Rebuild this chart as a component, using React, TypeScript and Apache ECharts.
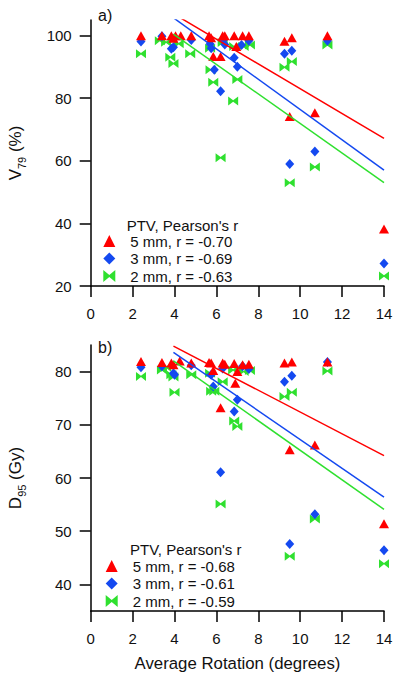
import React, { useEffect, useRef } from "react";
import * as echarts from "echarts";

const xTicks = [0, 2, 4, 6, 8, 10, 12, 14];
const v79Ticks = [20, 40, 60, 80, 100];
const d95Ticks = [40, 50, 60, 70, 80];

const namesA = ["5 mm, r = -0.70", "3 mm, r = -0.69", "2 mm, r = -0.63"];
const namesB = ["5 mm, r = -0.68", "3 mm, r = -0.61", "2 mm, r = -0.59"];

const v79_5mm = [
  [2.4, 100], [3.4, 100], [3.85, 100], [3.95, 99.2], [4.05, 100], [4.3, 100], [4.8, 100],
  [5.65, 100], [5.75, 99.3], [5.85, 93.3], [6.2, 93.3], [6.3, 100], [6.4, 100], [6.85, 100],
  [6.95, 96.5], [7.25, 100], [7.55, 100], [9.25, 98.2], [9.5, 74.2], [9.6, 99.3], [10.7, 75.4],
  [11.3, 100], [14, 38.2],
];
const v79_3mm = [
  [2.4, 98.1], [3.4, 99.8], [3.85, 95.8], [3.95, 96.3], [4.8, 98.6], [5.7, 97.3], [5.75, 96],
  [5.9, 89.1], [6.2, 82.2], [6.35, 98.8], [6.4, 97.2], [6.85, 92.9], [7.0, 90.1], [7.2, 97],
  [7.55, 98.4], [9.25, 94.2], [9.5, 59], [9.6, 95.2], [10.7, 63], [11.3, 98.4], [14, 27.2],
];
const v79_2mm = [
  [2.4, 94.2], [3.3, 98.4], [3.6, 97.9], [3.8, 93.1], [3.95, 91.1], [4.2, 97.4], [4.75, 94.2],
  [5.7, 96], [5.72, 89.1], [5.85, 85.1], [6.2, 61], [6.3, 97.8], [6.8, 79.1], [6.85, 96.5],
  [7.0, 86], [7.3, 96.5], [7.6, 97], [9.25, 89.9], [9.5, 53], [9.6, 91.7], [10.7, 58],
  [11.3, 97], [14, 23.2],
];
const d95_5mm = [
  [2.4, 81.9], [3.4, 81.7], [3.85, 81.6], [3.95, 81.3], [4.25, 82], [4.8, 81.6], [5.65, 81.7],
  [5.75, 81.6], [5.85, 80.2], [6.2, 73.2], [6.3, 81.6], [6.4, 81.4], [6.85, 81.5], [6.9, 77.8],
  [7.0, 80], [7.25, 81.3], [7.55, 81.4], [9.25, 81.6], [9.5, 65.3], [9.6, 81.8], [10.7, 66.2],
  [11.3, 81.8], [14, 51.4],
];
const d95_3mm = [
  [2.4, 80.8], [3.4, 81], [3.95, 79.7], [4.0, 79.4], [4.8, 81.2], [5.75, 79.4], [5.85, 77.2],
  [6.2, 61.1], [6.3, 80.6], [6.85, 72.5], [7.0, 74.7], [7.25, 81], [7.55, 80.5], [9.25, 78.1],
  [9.5, 47.6], [9.6, 79.2], [10.7, 53.2], [11.3, 81.8], [14, 46.4],
];
const d95_2mm = [
  [2.4, 79.1], [3.4, 80.3], [3.6, 80.8], [3.85, 79.4], [3.95, 79], [4.0, 76.1], [4.8, 79.4],
  [5.7, 79.7], [5.75, 76.3], [5.9, 76.3], [6.2, 55.1], [6.3, 78.1], [6.8, 80.3], [6.85, 70.7],
  [7.0, 69.7], [7.3, 80], [7.6, 80.2], [9.25, 75.3], [9.5, 45.3], [9.6, 76.1], [10.7, 52.3],
  [11.3, 80.1], [14, 43.9],
];

// fit lines (endpoints in data units)
const fitV79_5 = [[3.95, 107.0], [14, 67.2]];
const fitV79_3 = [[3.95, 105.7], [14, 57.0]];
const fitV79_2 = [[3.95, 100.5], [14, 53.0]];
const fitD95_5 = [[3.95, 84.8], [14, 64.2]];
const fitD95_3 = [[3.95, 83.6], [14, 56.4]];
const fitD95_2 = [[3.95, 82.0], [14, 54.1]];

const RED = "#ff0000";
const BLUE = "#1449f0";
const GREEN = "#2fe02f";
const FONT = "Liberation Sans, Arial, Helvetica, sans-serif";
const BOWTIE = "path://M0,0L5,4.2L10,0L10,10L5,5.8L0,10Z";

export default function App() {
  const ref = useRef<HTMLDivElement>(null);
  useEffect(() => {
    if (!ref.current) return;
    const chart = echarts.init(ref.current, undefined, { renderer: "svg" });

    const axisLine = { show: true, onZero: false, lineStyle: { color: "#000", width: 1.5 } };
    const axisTick = { show: true, inside: false, length: 11, lineStyle: { color: "#000", width: 1.5 } };
    const lbl = { fontSize: 15, color: "#111", fontFamily: FONT };

    const mkX = (gridIndex: number) => ({
      type: "value",
      gridIndex,
      min: 0,
      max: 14,
      interval: 2,
      axisLine,
      axisTick: { ...axisTick, customValues: xTicks },
      splitLine: { show: false },
      axisLabel: { ...lbl, margin: 20, customValues: xTicks },
    });
    const mkY = (gridIndex: number, min: number, max: number, ticks: number[]) => ({
      type: "value",
      gridIndex,
      min,
      max,
      axisLine,
      axisTick: { ...axisTick, customValues: ticks },
      splitLine: { show: false },
      axisLabel: { ...lbl, margin: 19, customValues: ticks },
    });

    const scat = (name: string, data: number[][], xi: number, symbol: string, size: number[], color: string, z: number) => ({
      type: "scatter",
      name,
      data,
      xAxisIndex: xi,
      yAxisIndex: xi,
      symbol,
      symbolSize: size,
      itemStyle: { color, opacity: 1 },
      z,
      silent: true,
    });
    const fit = (name: string, data: number[][], xi: number, color: string) => ({
      type: "line",
      name,
      data,
      xAxisIndex: xi,
      yAxisIndex: xi,
      symbol: "none",
      showSymbol: false,
      clip: true,
      lineStyle: { color, width: 1.5 },
      z: 5,
      silent: true,
    });

    const legend = (data: string[], left: number, top: number) => ({
      data,
      orient: "vertical",
      left,
      top,
      padding: 0,
      itemGap: 2.5,
      itemWidth: 12,
      itemHeight: 12,
      selectedMode: false,
      textStyle: { fontSize: 15, color: "#111", fontFamily: FONT, padding: [0, 0, 0, 10] },
    });

    const sub = {
      n: { fontSize: 17, fontFamily: FONT, fill: "#111", color: "#111", lineHeight: 24, verticalAlign: "middle" },
      s: { fontSize: 11, fontFamily: FONT, fill: "#111", color: "#111", lineHeight: 24, verticalAlign: "bottom" },
    };
    const txt = (text: string, x: number, y: number, align = "left", size = 15) => ({
      type: "text",
      x,
      y,
      silent: true,
      style: { text, fill: "#111", fontSize: size, fontFamily: FONT, align, verticalAlign: "middle" },
    });

    chart.setOption({
      animation: false,
      backgroundColor: "#fff",
      grid: [
        { left: 90.7, width: 293.3, top: 20, height: 266, containLabel: false },
        { left: 90.7, width: 293.3, top: 345, height: 266, containLabel: false },
      ],
      xAxis: [mkX(0), mkX(1)],
      yAxis: [mkY(0, 20, 105, v79Ticks), mkY(1, 35, 85, d95Ticks)],
      legend: [legend(namesA, 103.3, 233.5), legend(namesB, 105.7, 558.5)],
      series: [
        scat(namesA[2], v79_2mm, 0, BOWTIE, [10, 9], GREEN, 2),
        scat(namesA[1], v79_3mm, 0, "diamond", [9, 10], BLUE, 3),
        scat(namesA[0], v79_5mm, 0, "triangle", [10, 9], RED, 4),
        fit("fitA5", fitV79_5, 0, RED),
        fit("fitA3", fitV79_3, 0, BLUE),
        fit("fitA2", fitV79_2, 0, GREEN),
        scat(namesB[2], d95_2mm, 1, BOWTIE, [10, 9], GREEN, 2),
        scat(namesB[1], d95_3mm, 1, "diamond", [9, 10], BLUE, 3),
        scat(namesB[0], d95_5mm, 1, "triangle", [10, 9], RED, 4),
        fit("fitB5", fitD95_5, 1, RED),
        fit("fitB3", fitD95_3, 1, BLUE),
        fit("fitB2", fitD95_2, 1, GREEN),
      ],
      graphic: [
        txt("a)", 98, 15, "left", 16),
        txt("b)", 98, 347, "left", 16),
        txt("PTV, Pearson's r", 126.7, 225),
        txt("PTV, Pearson's r", 130, 549),
        txt("Average Rotation (degrees)", 237.5, 663, "center", 16.8),
        {
          type: "text",
          x: 15,
          y: 153,
          rotation: Math.PI / 2,
          silent: true,
          style: { text: "{n|V}{s|79}{n| (%)}", rich: sub, align: "center", verticalAlign: "middle", fill: "#111" },
        },
        {
          type: "text",
          x: 15,
          y: 478,
          rotation: Math.PI / 2,
          silent: true,
          style: { text: "{n|D}{s|95}{n| (Gy)}", rich: sub, align: "center", verticalAlign: "middle", fill: "#111" },
        },
      ],
    });
    return () => chart.dispose();
  }, []);
  return <div ref={ref} style={{ position: "fixed", left: 0, top: 0, width: 400, height: 681 }} />;
}
